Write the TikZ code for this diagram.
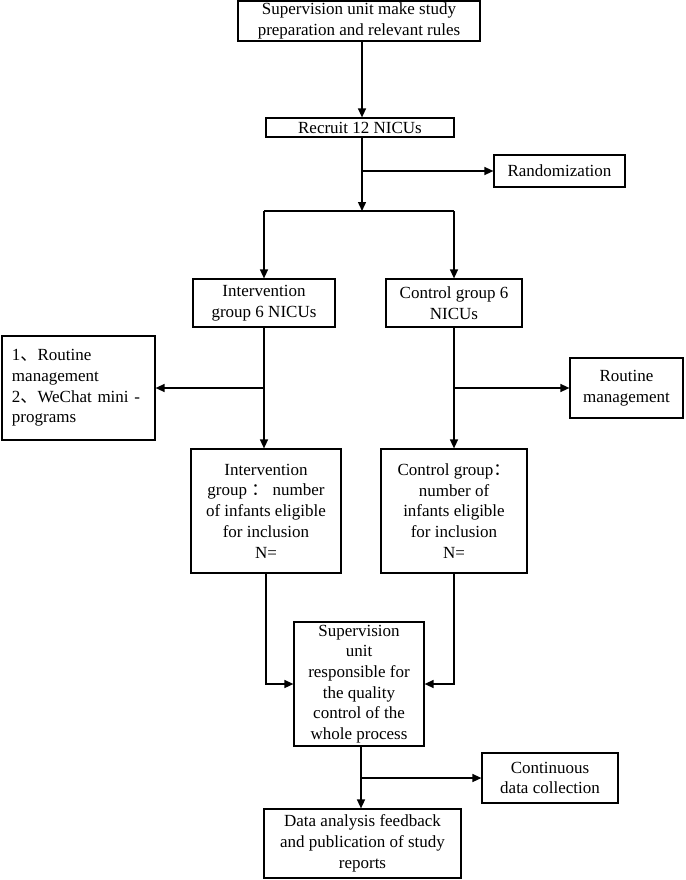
\documentclass[tikz,border=0pt]{standalone}
\usepackage{fontspec}
\setmainfont{Liberation Serif}
\newfontfamily\cjk{Noto Sans CJK SC}
\usetikzlibrary{arrows.meta}
\tikzset{
box/.style={draw, line width=1.2pt, inner sep=1pt, align=center,
  font=\fontsize{17}{20.7}\selectfont},
arr/.style={line width=1.4pt, -{Triangle[length=9pt,width=8pt]}},
}
\begin{document}
\begin{tikzpicture}[x=1pt,y=-1pt]
\useasboundingbox (0,0) rectangle (685,880);
\node [box, minimum width=242pt, minimum height=40pt] (top) at (359,21)
 {Supervision unit make study\\preparation and relevant rules};
\node [box, minimum width=188pt, minimum height=19pt, inner sep=0pt] (recruit) at (360,127.5) {Recruit 12 NICUs};
\node [box, minimum width=131pt, minimum height=32pt] (rand) at (559.5,171) {Randomization};
\node [box, minimum width=142pt, minimum height=48pt] (ig6) at (264,303) {Intervention\\group 6 NICUs};
\node [box, minimum width=136pt, minimum height=48pt] (cg6) at (454,303) {Control group 6\\NICUs};
\node [box, minimum width=153pt, minimum height=104pt, align=left, text width=133pt] (meas) at (78.5,388)
 {1{\cjk 、}Routine\\management\\2{\cjk 、}WeChat mini -\\programs};
\node [box, minimum width=113pt, minimum height=60pt] (routine) at (626.5,388) {Routine\\management};
\node [box, minimum width=150pt, minimum height=124pt] (ign) at (266,511)
 {Intervention\\group {\cjk ：} number\\of infants eligible\\for inclusion\\N=};
\node [box, minimum width=146pt, minimum height=124pt] (cgn) at (454,511)
 {Control group{\cjk ：}\\number of\\infants eligible\\for inclusion\\N=};
\node [box, minimum width=130pt, minimum height=124pt, inner sep=0pt] (sup) at (359,684)
 {Supervision\\unit\\responsible for\\the quality\\control of the\\whole process};
\node [box, minimum width=136pt, minimum height=50pt] (cont) at (550,778) {Continuous\\data collection};
\node [box, minimum width=197pt, minimum height=69pt] (data) at (362.5,843.5)
 {Data analysis feedback\\and publication of study\\reports};

\coordinate (fork) at (362,211);
\coordinate (drop) at (361,778);
\draw [arr] (fork |- top.south) -- (fork |- recruit.north);
\draw [arr] (recruit.south -| fork) -- (fork);
\draw [arr] (fork |- rand.west) -- (rand.west);
\draw [line width=1.4pt] (ig6.north |- fork) -- (cg6.north |- fork);
\draw [arr] (ig6.north |- fork) -- (ig6.north);
\draw [arr] (cg6.north |- fork) -- (cg6.north);

\draw [arr] (ig6.south) -- (ig6.south |- ign.north);
\draw [arr] (ig6.south |- meas.east) -- (meas.east);
\draw [arr] (cg6.south) -- (cg6.south |- cgn.north);
\draw [arr] (cg6.south |- routine.west) -- (routine.west);

\draw [arr] (ign.south) |- (sup.west);
\draw [arr] (cgn.south) |- (sup.east);
\draw [arr] (drop |- sup.south) -- (drop |- data.north);
\draw [arr] (drop) -- (cont.west);
\end{tikzpicture}
\end{document}
